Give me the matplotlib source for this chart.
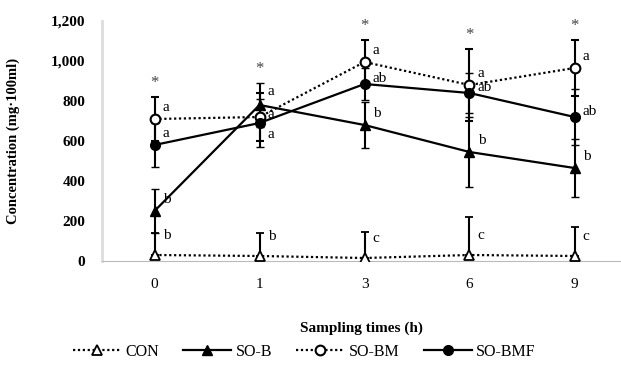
import matplotlib
matplotlib.use("Agg")
import matplotlib.pyplot as plt
from matplotlib.lines import Line2D
import numpy as np

times = ["0", "1", "3", "6", "9"]
con = [30, 25, 15, 30, 25]
con_err = [110, 115, 130, 190, 145]
so_b = [250, 780, 680, 545, 465]
so_b_err = [110, 110, 115, 175, 145]
so_bm = [710, 720, 995, 880, 965]
so_bm_err = [110, 120, 110, 180, 140]
so_bmf = [580, 690, 885, 840, 720]
so_bmf_err = [110, 120, 80, 100, 140]

con_lab = ["b", "b", "c", "c", "c"]
so_b_lab = ["b", "a", "b", "b", "b"]
so_bm_lab = ["a", "a", "a", "a", "a"]
so_bmf_lab = ["a", "a", "ab", "ab", "ab"]

yticks = [0, 200, 400, 600, 800, 1000, 1200]
ytick_labels = ["0", "200", "400", "600", "800", "1,000", "1,200"]

serif = ["Liberation Serif", "DejaVu Serif"]
plt.rcParams["font.family"] = serif

W, H = 621, 386
fig = plt.figure(figsize=(W / 100, H / 100), dpi=100)
left_px, right_px = 102, 621
ax = fig.add_axes([left_px / W, (H - 261) / H, (right_px - left_px) / W, 240 / H])
x = np.arange(len(times))
ax.set_xlim(-0.5, -0.5 + (right_px - left_px) / 105)
ax.set_ylim(0, 1200)

dotted = (0, (1, 1.2))
styles = {
    "CON": dict(ls=dotted, marker="^", mfc="white", mew=1.3, ms=6.5),
    "SO-B": dict(ls="-", marker="^", mfc="black", mew=1.0, ms=6.5),
    "SO-BM": dict(ls=dotted, marker="o", mfc="white", mew=1.5, ms=7),
    "SO-BMF": dict(ls="-", marker="o", mfc="black", mew=1.0, ms=7),
}

common = dict(color="black", mec="black", lw=1.6, elinewidth=1.5, capsize=3, capthick=1.5, zorder=3)
ax.errorbar(x, con, yerr=[np.zeros(5), con_err], **styles["CON"], **common)
ax.errorbar(x, so_b, yerr=so_b_err, **styles["SO-B"], **common)
ax.errorbar(x, so_bm, yerr=so_bm_err, **styles["SO-BM"], **common)
ax.errorbar(x, so_bmf, yerr=so_bmf_err, **styles["SO-BMF"], **common)

def letters(vals, labs, dy, special=None):
    for i, (v, l) in enumerate(zip(vals, labs)):
        off = dy
        if special and i in special:
            off = special[i]
        ax.annotate(l, (x[i], v), xytext=(6, off), textcoords="offset points",
                    fontsize=11, ha="left", va="center", color="black")

letters(con, con_lab, 14)
letters(so_b, so_b_lab, 8, {1: 10})
letters(so_bm, so_bm_lab, 8, {1: 2})
letters(so_bmf, so_bmf_lab, 4, {0: 8, 1: -8})

tops = np.max(np.vstack([np.add(con, con_err), np.add(so_b, so_b_err),
                         np.add(so_bm, so_bm_err), np.add(so_bmf, so_bmf_err)]), axis=0)
for i, t in enumerate(tops):
    ax.annotate("*", (x[i], t), xytext=(0, 4), textcoords="offset points",
                ha="center", va="bottom", fontsize=12, color="#444444")

ax.set_xticks(x)
ax.set_xticklabels(times, fontsize=11)
ax.set_yticks(yticks)
ax.set_yticklabels(ytick_labels, fontsize=11, fontweight="bold")
ax.tick_params(length=0, pad=12)
ax.tick_params(axis="x", pad=12)
for s in ["top", "right"]:
    ax.spines[s].set_visible(False)
ax.spines["bottom"].set_color("#bbbbbb")
ax.spines["left"].set_color("#dddddd")
ax.spines["left"].set_linewidth(2)

ax.set_xlabel("Sampling times (h)", fontsize=11, fontweight="bold", labelpad=22)
ax.set_ylabel("Concentration (mg·100ml)", fontsize=10.5, fontweight="bold", labelpad=22)

handles = [Line2D([], [], color="black", mec="black", lw=1.6, **styles[k]) for k in styles]
fig.legend(handles, list(styles.keys()), loc="center", bbox_to_anchor=(0.49, 1 - 352 / H),
           ncol=4, frameon=False, fontsize=11.5, handlelength=3, columnspacing=1.5,
           handletextpad=0.3)

fig.savefig("out.png", dpi=100, facecolor="white")
